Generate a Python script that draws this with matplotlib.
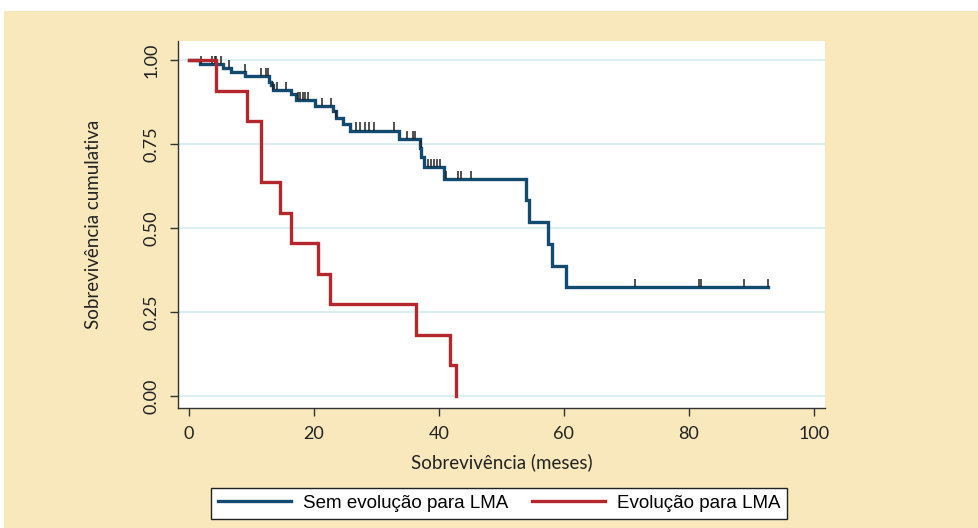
import numpy as np
import matplotlib
matplotlib.use('Agg')
import matplotlib.pyplot as plt
from matplotlib.patches import Rectangle

# ------------------------------------------------------------
# Data
# ------------------------------------------------------------

# Sem evolução para LMA: event times (months) and survival after each drop
blue_times = [1.8, 5.4, 6.8, 9.0, 12.8, 13.1, 13.4, 16.3, 17.1, 20.2, 23.0, 23.5,
              24.7, 25.8, 33.6, 37.0, 37.2, 37.6, 40.8, 53.9, 54.4, 57.5, 58.1, 60.4]
blue_surv = [0.988, 0.975, 0.963, 0.951, 0.935, 0.925, 0.911, 0.898, 0.881, 0.864, 0.848, 0.826,
             0.809, 0.790, 0.766, 0.737, 0.710, 0.682, 0.646, 0.582, 0.517, 0.452, 0.388, 0.323]
blue_end = 92.6
blue_censored = [1.9, 3.7, 4.2, 4.4, 5.1, 6.4, 8.9, 11.5, 12.4, 12.7, 13.4, 14.1, 15.5,
                 17.5, 17.8, 18.2, 18.6, 19.1, 21.3, 22.7, 23.5, 26.8, 27.4, 28.2, 28.8,
                 29.6, 32.8, 34.9, 35.8, 36.2, 37.1, 38.3, 38.7, 39.2, 39.7, 40.2, 41.2,
                 43.1, 43.6, 45.2, 71.4, 81.6, 82.0, 88.8, 92.6]

# Evolução para LMA
red_times = [4.4, 9.3, 11.5, 14.6, 16.4, 20.7, 22.5, 36.4, 41.7, 42.7]
red_surv = [0.909, 0.818, 0.636, 0.545, 0.455, 0.364, 0.273, 0.182, 0.091, 0.0]

labels = ['Sem evolução para LMA', 'Evolução para LMA']
x_ticks = [0, 20, 40, 60, 80, 100]
y_ticks = [0.00, 0.25, 0.50, 0.75, 1.00]

# ------------------------------------------------------------
# Style
# ------------------------------------------------------------

beige = '#f8e8bb'
blue = '#124a70'
red = '#b3272d'
grid_col = '#dcefef'
axis_col = '#333333'
axis_font = 'Lato'


def step_xy(times, surv, end=None):
    x = [0.0]
    y = [1.0]
    s_prev = 1.0
    for t, s in zip(times, surv):
        x += [t, t]
        y += [s_prev, s]
        s_prev = s
    if end is not None:
        x.append(end)
        y.append(s_prev)
    return np.array(x), np.array(y)


def surv_at(times, surv, t):
    idx = np.searchsorted(times, t, side='right')
    levels = np.concatenate([[1.0], surv])
    return levels[idx]


fig = plt.figure(figsize=(9.79, 5.28), dpi=100, facecolor='white')
fig.patches.append(Rectangle((4 / 979, 0), 1, (528 - 11) / 528, transform=fig.transFigure,
                             facecolor=beige, edgecolor='none', zorder=-10))

ax = fig.add_axes([178 / 979, (528 - 408) / 528, 647 / 979, 367 / 528])
ax.set_facecolor('white')

for yv in y_ticks:
    ax.axhline(yv, color=grid_col, lw=1.6, zorder=0)

bx, by = step_xy(blue_times, blue_surv, blue_end)
ax.plot(bx, by, color=blue, lw=2.4, solid_joinstyle='miter', zorder=3, label=labels[0])

cs = surv_at(np.array(blue_times), np.array(blue_surv), np.array(blue_censored))
ax.vlines(blue_censored, cs, cs + 0.024, color='#222222', lw=1.1, zorder=4)

rx, ry = step_xy(red_times, red_surv)
ax.plot(rx, ry, color=red, lw=2.4, solid_joinstyle='miter', zorder=5, label=labels[1])

ax.set_xlim(-1.76, 101.8)
ax.set_ylim(-0.0357, 1.0565)
ax.set_xticks(x_ticks)
ax.set_yticks(y_ticks)
ax.set_yticklabels([f'{v:.2f}' for v in y_ticks], rotation=90, va='center')

for s in ['top', 'right']:
    ax.spines[s].set_visible(False)
for s in ['left', 'bottom']:
    ax.spines[s].set_color(axis_col)
    ax.spines[s].set_linewidth(1.0)

ax.tick_params(axis='both', colors=axis_col, length=6, width=1.0, labelcolor='#222222',
               labelsize=13)
ax.tick_params(axis='y', pad=7)
ax.tick_params(axis='x', pad=7)
for lab in ax.get_xticklabels() + ax.get_yticklabels():
    lab.set_family(axis_font)

ax.set_xlabel('Sobrevivência (meses)', fontsize=13.5, family=axis_font, color='#222222', labelpad=8)
ax.set_ylabel('Sobrevivência cumulativa', fontsize=13.5, family=axis_font, color='#222222', labelpad=30)

leg = fig.legend(loc='center', bbox_to_anchor=(0.510, 0.0468), ncol=2, frameon=True,
                 fancybox=False, edgecolor='#222222', framealpha=1, handlelength=3.9,
                 handletextpad=0.6, columnspacing=1.3, borderpad=0.38,
                 prop={'family': 'Liberation Sans', 'size': 13.5})
leg.get_frame().set_linewidth(1.0)
for h in leg.get_lines():
    h.set_linewidth(2.4)

fig.savefig('out.png', dpi=100, facecolor=fig.get_facecolor())
